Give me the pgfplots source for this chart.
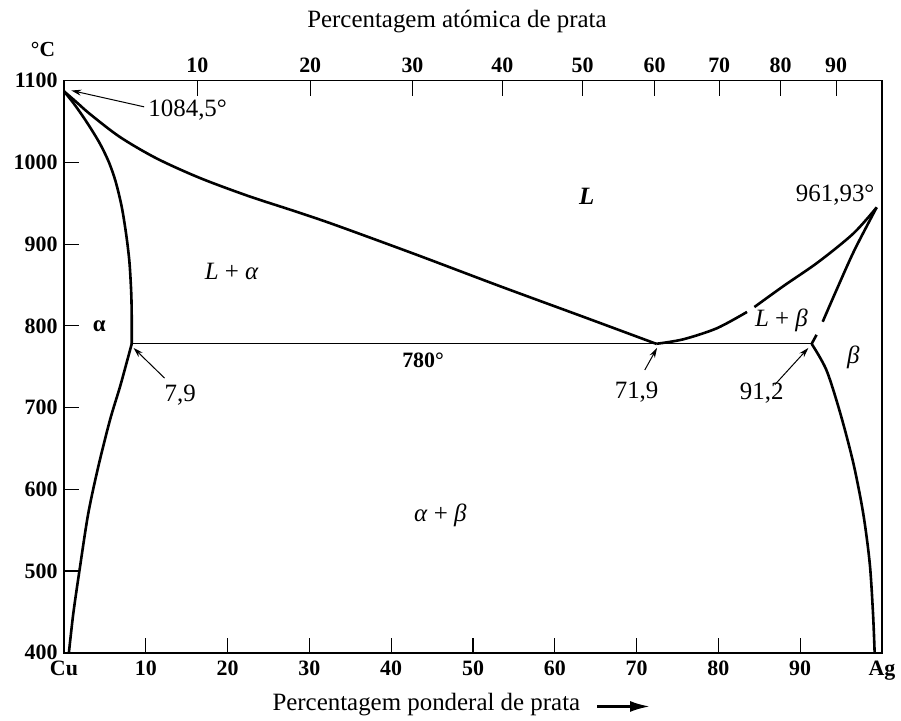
\documentclass[border=0pt]{standalone}
\usepackage{fontspec}
\setmainfont{Liberation Serif}
\usepackage{pgfplots}
\pgfplotsset{compat=1.18}
\usetikzlibrary{arrows.meta}
\newcommand{\annfont}{\fontsize{25}{28}\selectfont}
\newcommand{\tickfont}{\fontsize{22}{24}\selectfont\bfseries}
\begin{document}
\begin{tikzpicture}
\useasboundingbox (-64bp,-68.3bp) rectangle (837bp,652.7bp);
\begin{axis}[
  at={(0,0)}, anchor=south west,
  scale only axis, width=818bp, height=572bp,
  xmin=0, xmax=100, ymin=400, ymax=1100,
  axis line style={line width=1.6bp},
  xtick={0,10,...,100}, xticklabels={Cu,10,20,30,40,50,60,70,80,90,Ag},
  ytick={400,500,...,1100},
  xtick pos=bottom, ytick pos=left,
  tick align=inside,
  major tick length=15bp,
  tick style={line width=1.2bp, black},
  ticklabel style={font=\tickfont},
  /pgf/number format/assume math mode=true,
  /pgf/number format/set thousands separator={},
  xticklabel style={yshift=-5bp},
  yticklabel style={xshift=-3bp},
  clip=false,
]
% liquidus (Cu side)
\addplot[line width=2.6bp, smooth, no markers] coordinates {
 (0,1087) (1.5,1074) (3.2,1059) (6.85,1031) (11.3,1005) (16.6,981) (22.5,959)
 (28,941) (33,924) (43.1,887) (53.3,848.5) (63.5,811) (72.4,778)};
% alpha solidus
\addplot[line width=2.6bp, smooth, no markers] coordinates {
 (0,1087) (1.2,1072) (2.4,1055) (3.5,1038) (4.5,1021) (5.5,1000) (6.3,977)
 (7.05,946) (7.6,912) (8.0,878) (8.22,840) (8.28,810) (8.28,778)};
% alpha solvus
\addplot[line width=2.6bp, smooth, no markers] coordinates {
 (8.28,778) (7.74,758) (6.85,725.5) (5.62,684.7) (4.19,627.6) (2.97,570.6)
 (1.96,505.2) (1.14,448.2) (0.6,400)};
% eutectic line
\addplot[line width=1.3bp, no markers] coordinates {(8.28,778) (91.4,778)};
% liquidus (Ag side)
\addplot[line width=2.6bp, smooth, no markers] coordinates {
 (72.4,778) (75.7,783.5) (79.8,797) (83.5,817)};
\addplot[line width=2.6bp, smooth, no markers] coordinates {
 (84.4,823) (88,849) (92.2,878) (96.5,913) (99.35,945)};
% beta solidus
\addplot[line width=2.6bp, no markers] coordinates {(91.4,778) (92.0,789)};
\addplot[line width=2.6bp, smooth, no markers] coordinates {
 (92.75,805) (94.4,843) (96.6,892) (99.35,945)};
% beta solvus
\addplot[line width=2.6bp, smooth, no markers] coordinates {
 (91.4,778) (93.2,746) (94.9,693) (96.5,631.8) (97.7,570.6) (98.5,509.4)
 (98.9,448.2) (99.1,400)};

% annotations
\node[anchor=west, inner sep=0, font=\annfont] at (axis cs:10.3,1064) {1084,5°};
\draw[line width=1bp, -{Stealth[length=10bp,width=6bp]}] (axis cs:9.8,1068) -- (axis cs:0.9,1088);
\node[anchor=east, inner sep=0, font=\annfont] at (axis cs:99.1,960) {961,93°};
\node[font=\annfont\bfseries\itshape] at (axis cs:63.9,958) {L};
\node[font=\annfont] at (axis cs:20.5,866) {\textit{L} + \textit{α}};
\node[font=\fontsize{23}{26}\selectfont\bfseries] at (axis cs:4.3,800) {α};
\node[font=\fontsize{22}{26}\selectfont\bfseries] at (axis cs:43.9,758) {780°};
\node[font=\annfont] at (axis cs:14.2,715) {7,9};
\draw[line width=1bp, -{Stealth[length=10bp,width=6bp]}] (axis cs:12.3,736) -- (axis cs:8.5,773);
\node[font=\annfont] at (axis cs:70.0,719) {71,9};
\draw[line width=1bp, -{Stealth[length=10bp,width=6bp]}] (axis cs:71.0,746) -- (axis cs:72.5,773);
\node[font=\annfont] at (axis cs:85.3,717) {91,2};
\draw[line width=1bp, -{Stealth[length=10bp,width=6bp]}] (axis cs:86.9,728) -- (axis cs:91.0,773);
\node[font=\annfont] at (axis cs:87.7,807) {\textit{L} + \textit{β}};
\node[font=\annfont] at (axis cs:96.5,762) {\textit{β}};
\node[font=\annfont] at (axis cs:46.0,568) {\textit{α} + \textit{β}};

% axis titles
\node[font=\annfont] at (rel axis cs:0.4804,1.104) {Percentagem atómica de prata};
\node[font=\fontsize{21.5}{24}\selectfont\bfseries] at (rel axis cs:-0.0257,1.0537) {°C};
\node[font=\annfont] at (rel axis cs:0.443,-0.0914) {Percentagem ponderal de prata};
\draw[line width=2.6bp, -{Latex[length=20bp,width=11bp]}] (rel axis cs:0.6516,-0.094) -- (rel axis cs:0.7164,-0.094);
\end{axis}
\begin{axis}[
  at={(0,0)}, anchor=south west,
  scale only axis, width=818bp, height=572bp,
  xmin=0, xmax=100, ymin=400, ymax=1100,
  axis x line*=top, hide y axis,
  axis line style={line width=1.6bp, -},
  xtick={16.3,30.1,42.6,53.6,63.4,72.2,80.1,87.6,94.4},
  xticklabels={10,20,30,40,50,60,70,80,90},
  tick align=inside,
  major tick length=15bp,
  tick style={line width=1.2bp, black},
  ticklabel style={font=\tickfont},
  xticklabel style={yshift=4bp},
]
\end{axis}
\end{tikzpicture}
\end{document}
